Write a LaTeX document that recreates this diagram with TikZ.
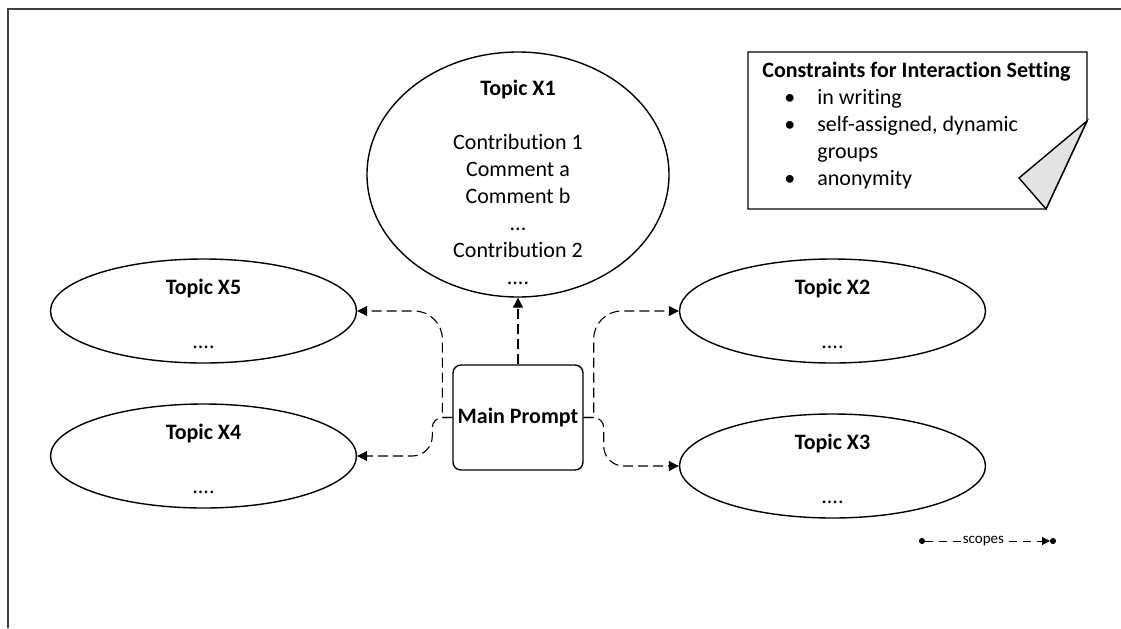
\documentclass[tikz,border=0pt]{standalone}
\usepackage{fontspec}
\setmainfont{Carlito}[Ligatures={NoCommon}]
\usetikzlibrary{arrows.meta,calc,positioning,shapes.geometric}

\newcommand{\cbullet}{\makebox[27.5pt][l]{\hspace*{11pt}\textbullet}}

\begin{document}
\begin{tikzpicture}[-,
    >={Triangle[length=5pt,width=5pt]},
    x=0.5pt, y=-0.5pt,
    font=\fontsize{11}{13.5}\selectfont]
  \tikzstyle{topic}=[draw, ellipse, line width=0.7pt, inner sep=0pt,
                     minimum width=153pt, minimum height=52pt]
  \tikzstyle{topictext}=[align=center, inner sep=0pt]
  \tikzstyle{link}=[->, line width=0.55pt, dash pattern=on 5pt off 2.5pt]
  \tikzstyle{legendline}=[{Circle[length=3pt]}-{Triangle[length=4pt,width=4pt]Circle[length=3pt]},
                          line width=0.5pt, dash pattern=on 4pt off 3pt]

  \useasboundingbox (0,0) rectangle (1121,628);
  \draw[line width=1pt, black!75] (8,628) -- (8,9) -- (1121,9);

  % topics
  \node (x1) [topic, minimum width=151pt, minimum height=122.5pt] at (518,174.5) {};
  \node (x5) [topic] at (203.5,311) {};
  \node (x4) [topic] at (203.5,456) {};
  \node (x2) [topic] at (832.5,311) {};
  \node (x3) [topic] at (832.5,466) {};

  \node (x1txt) [topictext] at (518,182.5)
    {\textbf{Topic X1}\\[13.5pt] Contribution 1\\ Comment a\\ Comment b\\ ...\\ Contribution 2\\ ....};
  \node (x5txt) [topictext] at ($(x5)+(0,2.5)$) {\textbf{Topic X5}\\[13.5pt] ....};
  \node (x4txt) [topictext] at ($(x4)+(0,2.5)$) {\textbf{Topic X4}\\[13.5pt] ....};
  \node (x2txt) [topictext] at ($(x2)+(0,2.5)$) {\textbf{Topic X2}\\[13.5pt] ....};
  \node (x3txt) [topictext] at ($(x3)+(0,2.5)$) {\textbf{Topic X3}\\[13.5pt] ....};

  \node (prompt) [draw, rounded corners=4pt, line width=0.7pt, inner sep=2pt,
                  minimum width=65pt, minimum height=52.5pt] at (518,417.5) {\textbf{Main Prompt}};

  % links from the prompt
  \draw[link] (prompt.north) -- (x1.south);
  \draw[link] (prompt.east) -- ++(10,0) [rounded corners=14pt] |- (x2.west);
  \draw[link] (prompt.east) -- ++(10,0) [rounded corners=5pt] -- ++(10,0)
              [rounded corners=10pt] |- (x3.west);
  \draw[link] (prompt.west) -- ++(-10,0) [rounded corners=14pt] |- (x5.east);
  \draw[link] (prompt.west) -- ++(-10,0) [rounded corners=5pt] -- ++(-10,0)
              [rounded corners=10pt] |- (x4.east);

  % constraints note
  \draw[line width=0.7pt] (748,52) -- (1087,52) -- (1087,121) -- (1046,209) -- (748,209) -- cycle;
  \draw[line width=0.7pt, fill=black!11] (1087,121) -- (1019,178) -- (1046,209) -- cycle;
  \node (cons) [anchor=north west, align=left, inner sep=0pt] at (762,62)
    {\textbf{Constraints for Interaction Setting}\\
     \cbullet in writing\\
     \cbullet self-assigned, dynamic\\
     \hspace*{27.5pt}groups\\
     \cbullet anonymity};

  % legend
  \coordinate (lgA) at (919,541);
  \coordinate (lgB) at (1056,541);
  \draw[legendline] (lgA) -- node[pos=0.47, fill=white, inner sep=1pt,
        font=\fontsize{7.5}{9}\selectfont] (lgtxt) {scopes} (lgB);
\end{tikzpicture}
\end{document}
